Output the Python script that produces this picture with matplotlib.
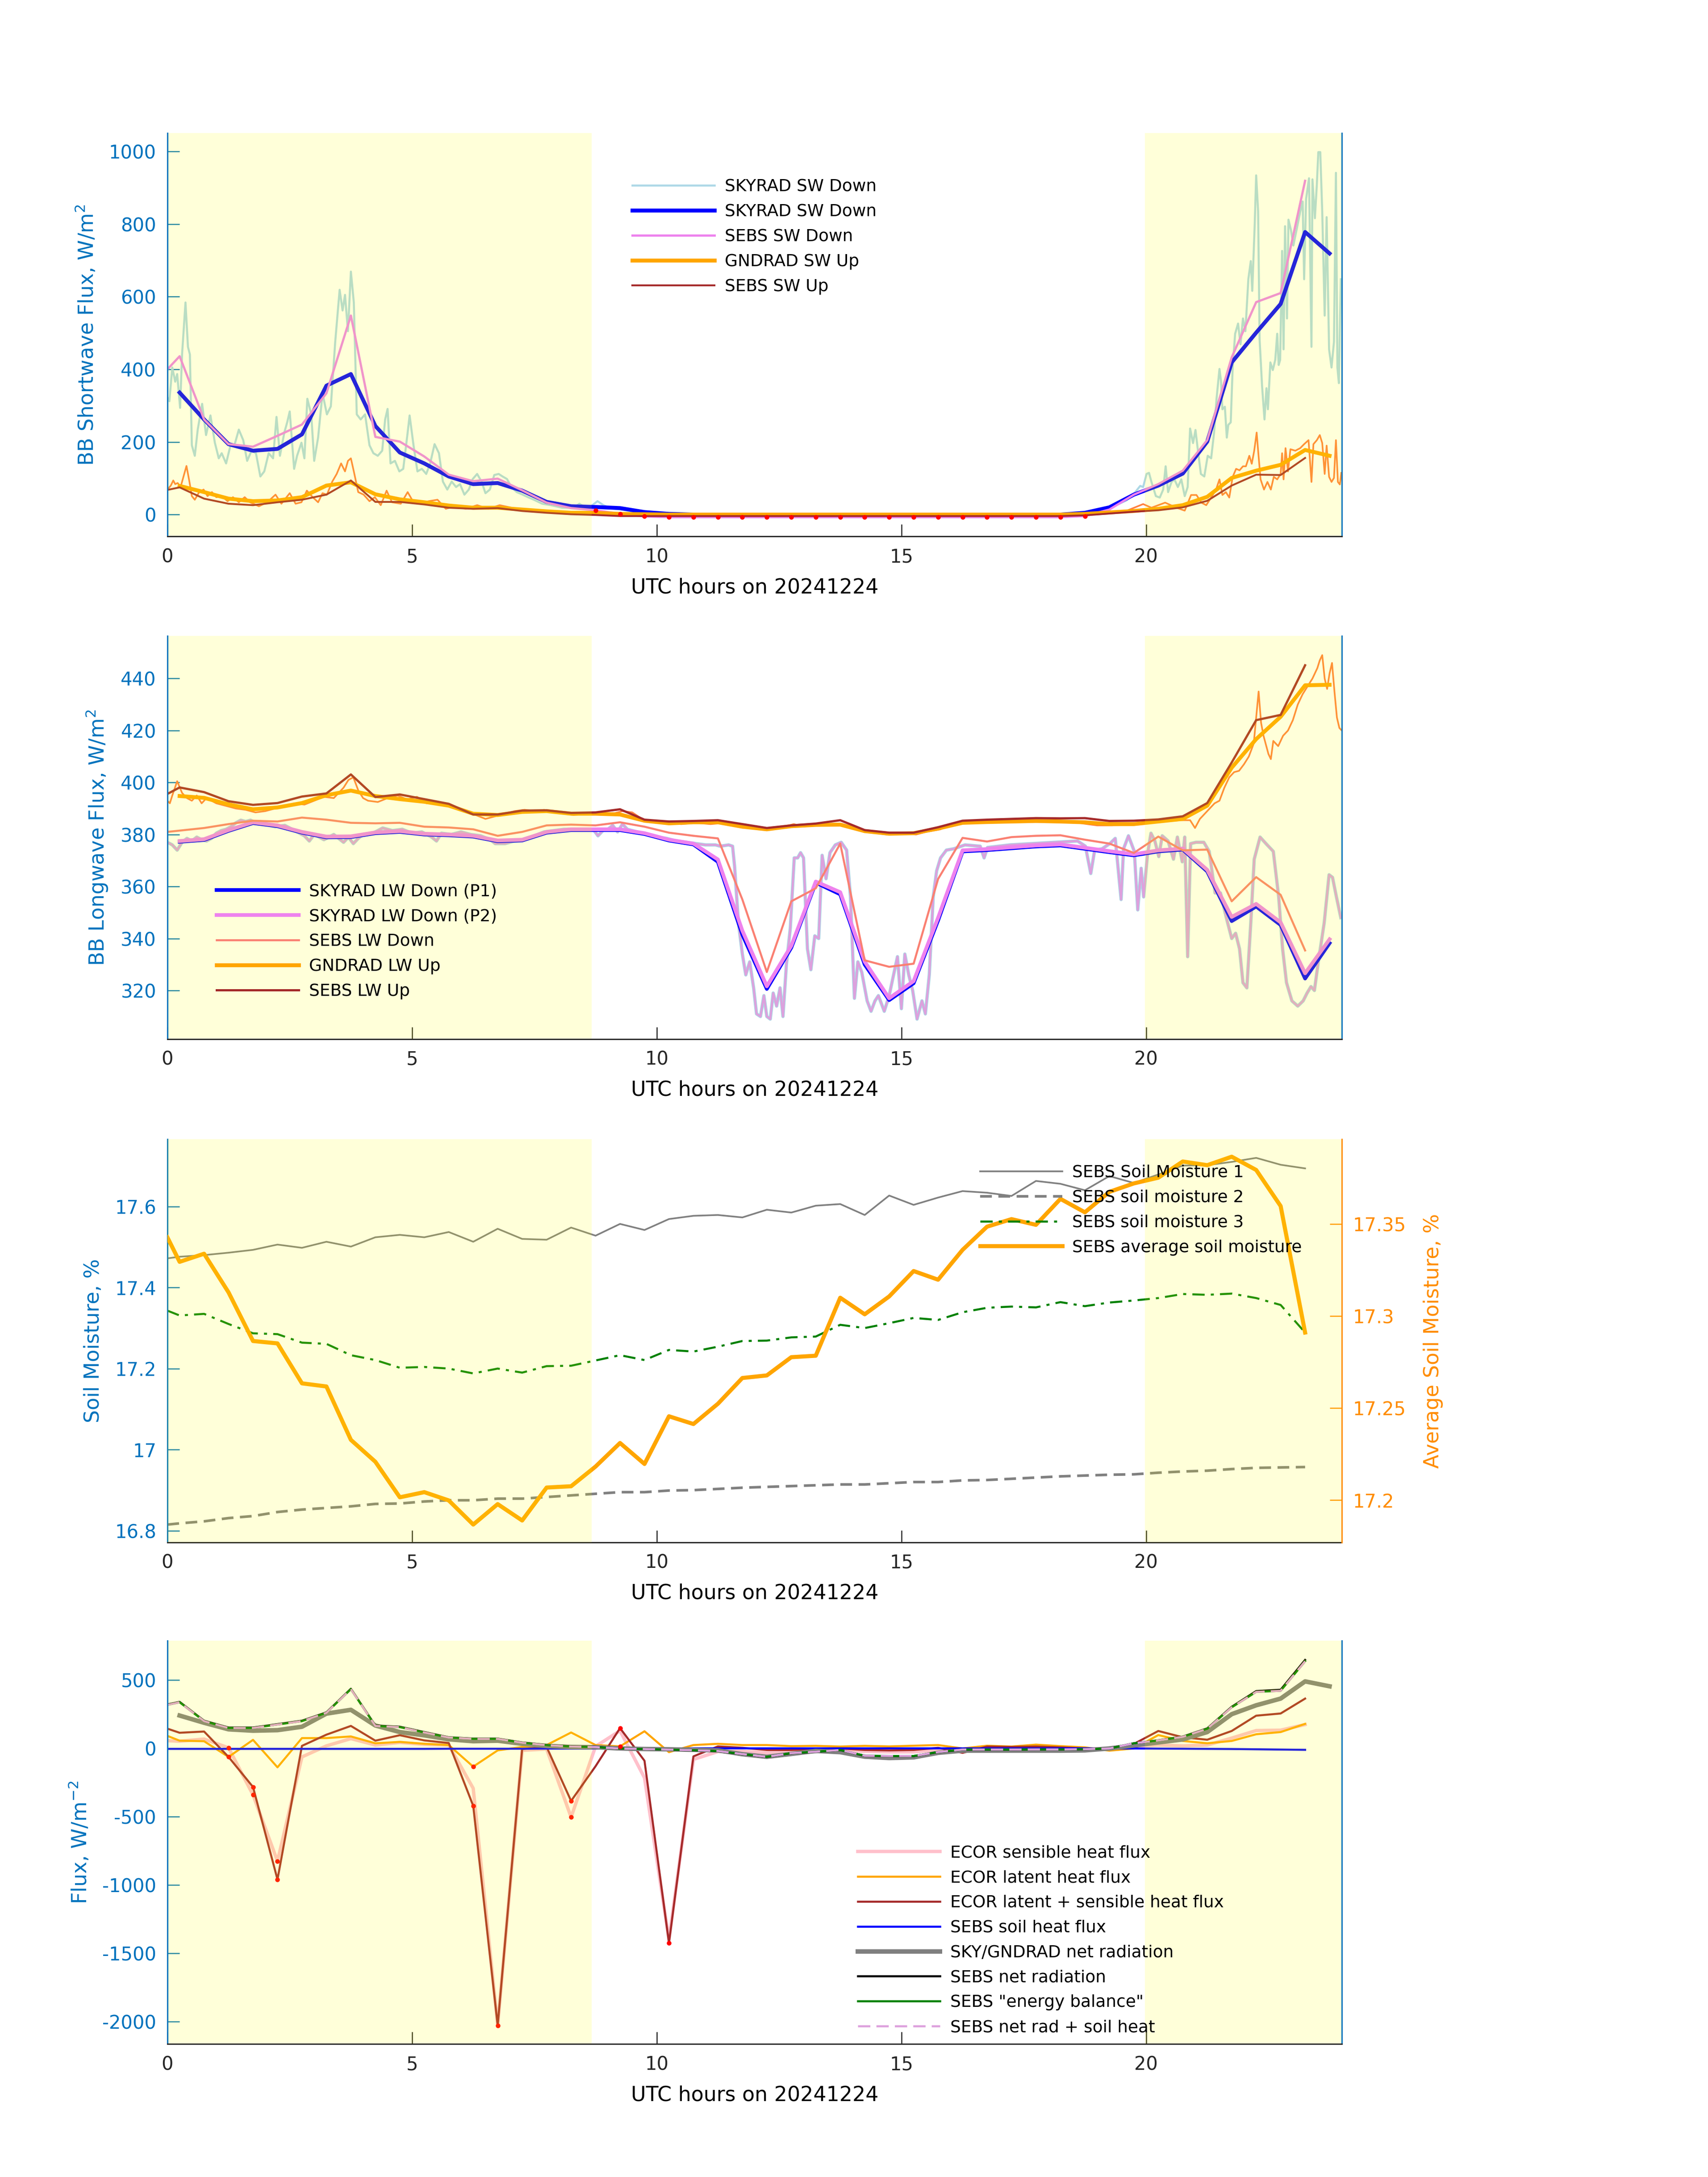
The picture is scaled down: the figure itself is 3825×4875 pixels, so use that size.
import numpy as np
import matplotlib
matplotlib.use("Agg")
import matplotlib.pyplot as plt
from matplotlib.ticker import FuncFormatter

plt.rcParams['font.family'] = 'DejaVu Sans'
plt.rcParams['axes.unicode_minus'] = False

AXBLUE = '#0072BD'
DARK = '#262626'
DAYLIGHT = [(0.0, 8.67), (19.98, 24.0)]

# 30-minute time grids
t_rad = np.arange(0.25, 24.0, 0.5)                               # SKYRAD / GNDRAD
t_sebs = np.concatenate([[0.0], np.arange(0.25, 23.5, 0.5)])     # SEBS / ECOR

# ---------------- panel 1: shortwave ----------------
sky_sw_dn = [336, 262, 194, 176, 181, 221, 355, 387, 244, 171, 141, 105, 84, 87, 66, 35,
             23, 21, 18, 7, 2, 0, 0, 0, 0, 0, 0, 0, 0, 0, 0, 0, 0, 0, 0, 0, 0,
             5, 20, 55, 80, 113, 201, 419, 501, 580, 778, 719]
sebs_sw_dn = [400, 436, 262, 194, 187, 217, 248, 334, 548, 214, 201, 160, 110, 92, 99, 67,
              33, 18, 12, 2, -5, -7, -7, -7, -7, -7, -7, -7, -7, -7, -7, -7, -7, -7, -7,
              -7, -7, -7, -4, 14, 55, 84, 121, 205, 433, 585, 610, 919]
gnd_sw_up = [79, 62, 44, 37, 39, 48, 80, 89, 56, 42, 34, 25, 19, 19, 14, 9, 5, 5, 2, 1,
             0, 0, 0, 0, 0, 0, 0, 0, 0, 0, 0, 0, 0, 0, 0, 0, 0,
             2, 6, 10, 16, 26, 49, 101, 121, 137, 178, 162]
sebs_sw_up = [68, 75, 44, 30, 26, 34, 41, 55, 94, 35, 35, 28, 19, 16, 18, 10, 5, 1, -1,
              -4, -4, -4, -4, -4, -4, -4, -4, -4, -4, -4, -4, -4, -4, -4, -4, -4, -4, -4,
              -2, 3, 8, 12, 20, 38, 80, 110, 109, 156]

sky_sw_dn_1min = [
    (0.0, 323), (0.04, 312), (0.1, 405), (0.16, 366), (0.2, 387), (0.26, 294), (0.3, 441),
    (0.37, 584), (0.42, 462), (0.46, 441), (0.5, 191), (0.56, 162), (0.62, 234), (0.71, 305),
    (0.79, 219), (0.88, 273), (0.97, 198), (1.05, 155), (1.11, 169), (1.2, 141), (1.29, 191),
    (1.37, 191), (1.46, 234), (1.55, 205), (1.63, 148), (1.72, 176), (1.81, 169), (1.9, 105),
    (1.98, 119), (2.07, 169), (2.16, 155), (2.23, 269), (2.3, 162), (2.39, 226), (2.45, 255),
    (2.5, 284), (2.59, 126), (2.65, 162), (2.74, 198), (2.8, 155), (2.86, 319), (2.94, 276),
    (3.0, 148), (3.08, 212), (3.17, 334), (3.26, 276), (3.34, 298), (3.43, 476), (3.52, 619),
    (3.58, 562), (3.63, 605), (3.69, 505), (3.75, 669), (3.81, 584), (3.87, 276), (3.95, 262),
    (4.04, 276), (4.13, 191), (4.21, 169), (4.3, 162), (4.39, 176), (4.45, 262), (4.5, 291),
    (4.56, 141), (4.65, 148), (4.74, 119), (4.82, 126), (4.91, 226), (4.95, 273), (5.03, 191),
    (5.11, 119), (5.2, 126), (5.29, 112), (5.37, 141), (5.46, 194), (5.55, 169), (5.63, 91),
    (5.72, 69), (5.81, 91), (5.9, 76), (5.98, 84), (6.07, 55), (6.16, 69), (6.24, 98),
    (6.33, 112), (6.42, 91), (6.5, 59), (6.59, 69), (6.68, 109), (6.77, 112), (6.85, 105),
    (6.94, 98), (7.03, 76), (7.14, 62), (7.26, 55), (7.37, 48), (7.49, 41), (7.66, 30),
    (7.84, 26), (8.07, 19), (8.3, 19), (8.42, 30), (8.59, 16), (8.79, 37), (8.91, 26),
    (9.04, 19), (9.2, 15), (9.5, 9), (9.8, 4), (10.1, 1), (10.5, 0), (18.5, 0), (18.8, 4),
    (18.93, 8), (19.44, 29), (19.61, 40), (19.78, 62), (19.88, 79), (19.94, 76), (20.01, 112),
    (20.06, 115), (20.11, 90), (20.2, 51), (20.28, 47), (20.35, 69), (20.4, 133), (20.45, 62),
    (20.52, 90), (20.58, 97), (20.65, 76), (20.72, 97), (20.79, 51), (20.85, 76), (20.9, 237),
    (20.96, 197), (21.01, 233), (21.06, 176), (21.12, 112), (21.19, 105), (21.26, 162),
    (21.33, 155), (21.39, 226), (21.44, 319), (21.5, 401), (21.53, 369), (21.56, 290),
    (21.61, 297), (21.65, 212), (21.68, 247), (21.73, 254), (21.77, 405), (21.82, 498),
    (21.88, 526), (21.93, 469), (21.98, 540), (22.03, 505), (22.09, 648), (22.14, 698),
    (22.17, 616), (22.22, 798), (22.25, 934), (22.29, 834), (22.32, 483), (22.37, 355),
    (22.42, 262), (22.46, 348), (22.49, 290), (22.54, 419), (22.59, 398), (22.64, 426),
    (22.68, 498), (22.71, 412), (22.74, 426), (22.78, 726), (22.81, 455), (22.84, 794),
    (22.88, 540), (22.91, 812), (22.96, 784), (23.01, 741), (23.08, 787), (23.15, 834),
    (23.2, 862), (23.23, 648), (23.27, 869), (23.33, 926), (23.38, 462), (23.4, 923),
    (23.45, 816), (23.49, 909), (23.52, 998), (23.56, 998), (23.6, 834), (23.65, 548),
    (23.69, 819), (23.74, 455), (23.79, 405), (23.84, 476), (23.88, 941), (23.91, 405),
    (23.94, 362), (23.98, 648)]

gnd_sw_up_1min = [
    (0.0, 69), (0.07, 80), (0.12, 94), (0.16, 84), (0.21, 87), (0.27, 76), (0.33, 105),
    (0.39, 134), (0.45, 91), (0.5, 51), (0.56, 41), (0.65, 62), (0.74, 69), (0.82, 51),
    (0.91, 62), (1.0, 48), (1.11, 51), (1.23, 37), (1.34, 48), (1.46, 34), (1.58, 48),
    (1.69, 34), (1.87, 23), (2.04, 34), (2.21, 55), (2.33, 30), (2.5, 59), (2.62, 30),
    (2.74, 34), (2.85, 66), (2.97, 48), (3.08, 34), (3.17, 59), (3.26, 55), (3.37, 91),
    (3.46, 112), (3.55, 141), (3.63, 119), (3.69, 148), (3.75, 155), (3.81, 119), (3.9, 62),
    (4.01, 55), (4.13, 37), (4.24, 48), (4.36, 26), (4.48, 66), (4.59, 34), (4.77, 30),
    (4.91, 62), (5.03, 34), (5.17, 30), (5.34, 37), (5.52, 41), (5.69, 16), (5.87, 23),
    (6.1, 16), (6.33, 26), (6.56, 16), (6.79, 26), (7.14, 16), (7.49, 12), (8.07, 6),
    (8.65, 4), (9.2, 2), (9.8, 0), (18.8, 0), (18.93, 3), (19.61, 11), (19.94, 29),
    (20.11, 19), (20.39, 33), (20.62, 19), (20.79, 11), (20.92, 54), (21.03, 54), (21.13, 33),
    (21.23, 26), (21.33, 47), (21.43, 69), (21.5, 97), (21.56, 54), (21.63, 62), (21.7, 47),
    (21.77, 104), (21.84, 126), (21.91, 122), (21.98, 133), (22.04, 133), (22.11, 162),
    (22.16, 140), (22.21, 176), (22.26, 226), (22.29, 176), (22.34, 97), (22.41, 69),
    (22.48, 90), (22.55, 69), (22.61, 104), (22.68, 97), (22.75, 112), (22.78, 169),
    (22.81, 97), (22.85, 183), (22.9, 119), (22.95, 180), (23.05, 176), (23.15, 183),
    (23.23, 194), (23.32, 205), (23.38, 90), (23.42, 194), (23.49, 205), (23.55, 219),
    (23.6, 197), (23.65, 112), (23.69, 190), (23.74, 104), (23.79, 90), (23.84, 101),
    (23.88, 205), (23.92, 90), (23.96, 83), (23.99, 115)]

# ---------------- panel 2: longwave ----------------
sky_lw_dn_p1 = [377.2, 377.9, 381.4, 384.4, 383.2, 380.7, 378.9, 379.0, 380.5, 381.0,
                380.0, 379.7, 379.2, 377.4, 377.7, 380.7, 381.7, 381.7, 381.7, 380.2,
                377.7, 376.2, 369.5, 341.5, 320.6, 336.5, 361.5, 357.0, 330.0, 316.3,
                322.8, 347.0, 373.5, 374.0, 374.7, 375.4, 375.8, 374.5, 373.2, 372.0,
                373.5, 374.2, 365.8, 346.7, 352.3, 345.2, 324.6, 338.2]
sky_lw_dn_p2 = [377.5, 378.2, 381.7, 384.7, 383.5, 381.0, 379.2, 379.3, 380.8, 381.3,
                380.3, 380.0, 379.5, 377.7, 378.0, 381.0, 382.0, 382.0, 382.0, 380.5,
                378.0, 376.5, 370.4, 343.0, 321.6, 337.2, 361.9, 357.8, 331.1, 317.0,
                323.6, 348.0, 373.9, 374.4, 375.1, 375.8, 376.2, 374.9, 373.6, 372.4,
                373.9, 374.6, 366.4, 348.3, 353.3, 346.2, 326.6, 339.7]
sebs_lw_dn = [381.0, 381.5, 382.5, 384.0, 385.3, 385.0, 386.5, 385.7, 384.5, 384.3,
              384.5, 383.0, 382.7, 382.0, 379.5, 381.0, 383.5, 383.8, 383.5, 384.7,
              383.0, 380.7, 379.5, 378.5, 355.0, 327.1, 354.3, 359.3, 376.5, 331.6,
              329.1, 330.3, 362.9, 378.7, 377.3, 379.0, 379.5, 379.7, 378.0, 376.5,
              372.9, 379.2, 373.9, 374.2, 354.3, 363.6, 356.8, 335.4]
gnd_lw_up = [394.8, 394.1, 391.6, 389.7, 390.4, 392.1, 395.1, 396.9, 394.8, 393.6,
             392.6, 391.1, 388.0, 387.5, 388.7, 389.0, 388.0, 388.0, 387.7, 385.3,
             384.3, 384.7, 384.7, 383.0, 382.0, 383.2, 383.7, 383.8, 381.3, 380.3,
             380.5, 382.3, 384.5, 384.8, 385.0, 385.2, 385.0, 384.7, 384.0, 384.0,
             385.0, 386.0, 391.1, 405.7, 416.7, 425.3, 437.4, 437.6]
sebs_lw_up = [395.6, 398.1, 396.3, 392.8, 391.4, 392.1, 394.6, 395.8, 403.1, 394.4,
              395.4, 393.6, 391.8, 387.7, 387.7, 389.2, 389.3, 388.3, 388.5, 389.7,
              385.7, 385.0, 385.2, 385.5, 384.0, 382.5, 383.5, 384.2, 385.5, 381.7,
              380.7, 380.7, 382.8, 385.3, 385.7, 386.0, 386.3, 386.2, 386.3, 385.2,
              385.3, 385.8, 387.0, 392.1, 407.7, 424.0, 426.0, 445.1]

sky_lw_dn_1min = [
    (0.0, 377), (0.1, 376), (0.2, 374), (0.3, 377), (0.4, 378.5), (0.5, 377.5), (0.6, 379),
    (0.7, 378), (0.8, 377.5), (0.9, 378.5), (1.0, 380.5), (1.1, 381.5), (1.2, 382), (1.3, 383),
    (1.4, 384.5), (1.5, 385.5), (1.6, 385), (1.7, 385.5), (1.8, 384.5), (1.9, 385), (2.0, 384),
    (2.2, 383), (2.4, 383.5), (2.6, 381.5), (2.8, 379.5), (2.9, 377.5), (3.0, 380), (3.2, 378),
    (3.4, 380), (3.5, 378.5), (3.6, 377), (3.7, 379), (3.8, 376.5), (3.9, 378.5), (4.0, 380),
    (4.2, 380.5), (4.4, 382.5), (4.6, 381.5), (4.8, 382), (5.0, 380.5), (5.2, 381), (5.4, 379),
    (5.5, 377.5), (5.6, 380.5), (5.8, 380), (6.0, 381), (6.2, 380), (6.4, 379.5), (6.6, 378),
    (6.7, 376.5), (6.9, 376.5), (7.1, 377.5), (7.3, 378), (7.5, 379.5), (7.7, 381), (7.9, 381.5),
    (8.1, 382), (8.4, 382), (8.7, 382), (8.8, 379.5), (8.9, 381.5), (9.0, 382), (9.1, 383.5),
    (9.2, 381), (9.3, 384), (9.4, 382), (9.6, 381), (9.8, 380), (10.0, 379), (10.2, 378.5),
    (10.4, 377.5), (10.6, 377), (10.8, 376.5), (11.0, 376), (11.2, 376), (11.3, 375.5),
    (11.47, 376), (11.55, 375.5), (11.59, 368), (11.67, 346), (11.75, 334), (11.82, 326),
    (11.9, 331), (11.98, 321), (12.04, 311), (12.12, 310), (12.19, 318), (12.25, 310),
    (12.32, 309), (12.38, 319), (12.45, 314), (12.52, 321), (12.58, 310), (12.65, 330),
    (12.73, 344), (12.81, 371), (12.88, 371), (12.94, 373), (13.0, 371), (13.08, 336),
    (13.15, 328), (13.23, 341), (13.31, 340), (13.38, 372), (13.46, 363), (13.54, 373),
    (13.65, 376), (13.77, 377), (13.88, 374), (13.96, 356), (14.04, 317), (14.11, 331),
    (14.19, 327), (14.3, 316), (14.38, 312), (14.46, 316), (14.53, 318), (14.65, 312),
    (14.75, 318), (14.84, 326), (14.92, 333), (15.0, 313), (15.07, 334), (15.15, 326),
    (15.23, 320), (15.32, 309), (15.42, 316), (15.49, 311), (15.57, 326), (15.65, 356),
    (15.72, 366), (15.8, 371), (15.92, 374), (16.07, 374.5), (16.3, 376), (16.61, 375.5),
    (16.69, 371), (16.76, 375), (17.22, 376), (17.68, 376.5), (18.14, 377), (18.6, 377.5),
    (18.76, 375.5), (18.87, 365), (18.95, 374), (19.1, 374.5), (19.26, 376.5), (19.37, 378.5),
    (19.49, 355), (19.54, 374.5), (19.64, 379.5), (19.76, 373.5), (19.83, 351), (19.9, 367),
    (19.95, 356), (20.03, 372.5), (20.1, 380.5), (20.18, 377.5), (20.26, 371.5), (20.33, 379.5),
    (20.45, 377.5), (20.56, 370.5), (20.64, 379), (20.74, 369.5), (20.79, 379), (20.85, 333),
    (20.91, 376.5), (21.02, 377), (21.18, 377), (21.29, 373.5), (21.41, 357.5), (21.52, 357.5),
    (21.64, 348), (21.75, 340), (21.83, 342), (21.91, 336), (21.98, 323), (22.06, 321),
    (22.14, 346), (22.21, 370.5), (22.33, 379), (22.45, 376.5), (22.6, 373.5), (22.71, 356),
    (22.79, 336), (22.87, 323), (22.98, 316), (23.1, 314), (23.21, 316), (23.29, 319),
    (23.37, 321.5), (23.44, 320), (23.52, 331), (23.64, 346), (23.74, 364.5), (23.81, 363.5),
    (23.89, 356), (23.98, 348)]

gnd_lw_up_1min = [
    (0.0, 393), (0.05, 392), (0.1, 395), (0.2, 400.5), (0.3, 396), (0.4, 394), (0.5, 393),
    (0.6, 395), (0.7, 392), (0.8, 394), (0.9, 393), (1.0, 392), (1.2, 391), (1.4, 390),
    (1.6, 389.5), (1.8, 388.5), (2.0, 389), (2.2, 390), (2.4, 391), (2.6, 392), (2.8, 391.5),
    (3.0, 393), (3.2, 394.5), (3.4, 394), (3.5, 396), (3.6, 398), (3.7, 401), (3.8, 402),
    (3.9, 397), (4.0, 394), (4.1, 393), (4.3, 392.5), (4.5, 394), (4.7, 395), (4.9, 393.5),
    (5.1, 394.5), (5.3, 392), (5.5, 392.5), (5.7, 391), (5.9, 390), (6.1, 389), (6.3, 387.5),
    (6.5, 386), (6.7, 387), (6.9, 388), (7.1, 389), (7.3, 389.5), (7.5, 389), (7.7, 389.5),
    (7.9, 388.5), (8.1, 388), (8.3, 387.5), (8.6, 388), (8.9, 387.5), (9.1, 388), (9.3, 389),
    (9.5, 388.5), (9.7, 386), (9.9, 385), (10.2, 384.5), (10.5, 384), (10.8, 384.5),
    (11.1, 384), (11.4, 384.5), (11.7, 383.5), (12.0, 383), (12.3, 382), (12.5, 382.5),
    (12.8, 384), (13.0, 383), (13.3, 384), (13.5, 383.5), (13.8, 384), (14.0, 383),
    (14.2, 381.5), (14.5, 380.5), (14.7, 380), (15.0, 380.5), (15.3, 380), (15.5, 381),
    (15.8, 382), (16.0, 384), (16.3, 384.5), (16.6, 385), (17.0, 385), (17.5, 385), (18.0, 385),
    (18.5, 384.8), (18.8, 384), (19.0, 383.5), (19.3, 383.5), (19.6, 383.8), (19.9, 384.5),
    (20.1, 385), (20.4, 385), (20.7, 385.5), (20.9, 385.5), (21.0, 382.5), (21.1, 386),
    (21.2, 388), (21.4, 392), (21.5, 393), (21.6, 398), (21.7, 402), (21.8, 404), (21.9, 404.5),
    (22.0, 407), (22.1, 410), (22.2, 415), (22.25, 425), (22.3, 435), (22.35, 423),
    (22.4, 418), (22.5, 411), (22.55, 409), (22.6, 416), (22.7, 414), (22.8, 418), (22.9, 420),
    (23.0, 424), (23.1, 430), (23.2, 434), (23.3, 437), (23.4, 440), (23.5, 444), (23.55, 447),
    (23.6, 449), (23.65, 440), (23.7, 436), (23.75, 442), (23.8, 446), (23.85, 435),
    (23.9, 425), (23.95, 421), (24.0, 420)]

# ---------------- panel 3: soil moisture ----------------
soil_m1 = [17.472, 17.476, 17.480, 17.486, 17.493, 17.506, 17.498, 17.513, 17.501, 17.524,
           17.530, 17.524, 17.537, 17.513, 17.545, 17.520, 17.518, 17.548, 17.528, 17.557,
           17.542, 17.569, 17.577, 17.579, 17.573, 17.592, 17.585, 17.602, 17.606, 17.579,
           17.627, 17.604, 17.622, 17.638, 17.634, 17.626, 17.663, 17.656, 17.640, 17.675,
           17.658, 17.679, 17.701, 17.702, 17.710, 17.720, 17.703, 17.694]
soil_m2 = [16.815, 16.818, 16.823, 16.831, 16.836, 16.846, 16.852, 16.856, 16.860, 16.866,
           16.867, 16.872, 16.875, 16.875, 16.879, 16.879, 16.883, 16.887, 16.891, 16.895,
           16.895, 16.899, 16.900, 16.903, 16.906, 16.908, 16.910, 16.912, 16.914, 16.914,
           16.917, 16.920, 16.920, 16.924, 16.925, 16.928, 16.931, 16.934, 16.936, 16.938,
           16.939, 16.943, 16.946, 16.948, 16.952, 16.955, 16.956, 16.957]
soil_m3 = [17.343, 17.331, 17.335, 17.310, 17.287, 17.285, 17.264, 17.261, 17.233, 17.221,
           17.202, 17.204, 17.200, 17.188, 17.200, 17.190, 17.206, 17.207, 17.220, 17.233,
           17.221, 17.246, 17.242, 17.254, 17.268, 17.269, 17.277, 17.279, 17.308, 17.300,
           17.312, 17.325, 17.320, 17.339, 17.350, 17.353, 17.351, 17.364, 17.354, 17.363,
           17.368, 17.374, 17.384, 17.382, 17.385, 17.374, 17.357, 17.289]
soil_avg = [17.3427, 17.3294, 17.3338, 17.3128, 17.2864, 17.2851, 17.2634, 17.2617, 17.2327,
            17.2208, 17.2015, 17.2043, 17.1998, 17.1867, 17.1978, 17.1889, 17.2068, 17.2075,
            17.2182, 17.2310, 17.2196, 17.2455, 17.2413, 17.2523, 17.2663, 17.2677, 17.2776,
            17.2784, 17.3099, 17.3009, 17.3106, 17.3244, 17.3197, 17.3359, 17.3485, 17.3526,
            17.3495, 17.3636, 17.3563, 17.3674, 17.3720, 17.3751, 17.3839, 17.3819, 17.3865,
            17.3793, 17.3597, 17.2910]

# ---------------- panel 4: surface energy fluxes ----------------
ecor_sensible = [57, 53, 69, 5, -340, -825, -62, 19, 72, 25, 44,
                 30, 25, -292, -2027, -14, -4, -503, 15, 130, -215,
                 -1400, -80, -23, -20, -32, -18, -14, -11, -21, -25,
                 -25, -11, -5, -5, -5, -4, -3, -3, 0, 17,
                 25, 19, 25, 76, 131, 134, 175]
ecor_latent = [92, 57, 53, -62, 63, -138, 76, 76, 88, 38, 48,
               34, 25, -133, -14, 11, 25, 117, 25, 15, 126,
               -27, 25, 34, 25, 25, 17, 19, 14, 19, 15,
               20, 25, 0, 20, 14, 28, 17, 8, -16, 0,
               98, 55, 38, 55, 104, 120, 180]
ecor_sum = [145, 115, 124, -62, -282, -959, 19, 101, 165, 57, 97,
            59, 40, -420, -2027, -4, 11, -384, -130, 149, -90,
            -1423, -58, 15, 5, -11, -11, -5, 0, -11, -14,
            -11, 5, -32, 14, 11, 14, 8, 0, -5, 33,
            128, 82, 64, 128, 240, 256, 365]
sebs_soil_heat = [-3, -3, -3, -3, -3, -3, -3, -3, -3, -3, -3,
                  -3, -2, -2, -2, -2, -1, -1, -1, 0, 0,
                  0, 1, 1, 1, 1, 1, 1, 1, 1, 1,
                  1, 1, 1, 1, 1, 1, 1, 1, 0, 0,
                  -1, -2, -3, -4, -6, -8, -10]
sebs_netrad = [322, 341, 203, 153, 153, 178, 203, 264, 437, 168, 159,
               120, 82, 72, 72, 44, 25, 15, 11, 0, -4,
               -8, -14, -20, -42, -62, -35, -25, -12, -54, -56,
               -56, -27, -9, -9, -9, -8, -8, -6, 0, 38,
               60, 87, 147, 305, 420, 430, 648]
sky_gnd_netrad = [241, 188, 140, 130, 134, 159, 255, 283, 168, 120,
                  96, 67, 53, 57, 34, 19, 11, 9, 0, -4,
                  -6, -10, -14, -42, -61, -40, -18, -27, -60, -70,
                  -65, -32, -16, -16, -16, -16, -16, -14, 0, 22,
                  44, 66, 120, 251, 316, 365, 491, 455]
ecor_flagged = [(1.25, 5), (1.25, -62), (1.75, -282), (1.75, -340), (2.25, -825),
                (2.25, -959), (6.25, -133), (6.25, -420), (6.75, -2027), (8.25, -384),
                (8.25, -503), (9.25, 149), (9.25, 15), (10.25, -1423)]


def fmt(v, pos):
    return '%g' % round(v, 6)


def style(ax, ylim, yticks, ylabel, right_color=AXBLUE):
    ax.set_xlim(0, 24)
    ax.set_ylim(*ylim)
    ax.set_xticks([0, 5, 10, 15, 20])
    ax.set_yticks(yticks)
    ax.yaxis.set_major_formatter(FuncFormatter(fmt))
    ax.tick_params(direction='in', length=6.5, width=0.6, labelsize=10, pad=6)
    ax.tick_params(axis='y', colors=AXBLUE)
    ax.tick_params(axis='x', colors=DARK)
    ax.spines['top'].set_visible(False)
    ax.spines['left'].set_color(AXBLUE)
    ax.spines['right'].set_color(right_color)
    ax.spines['bottom'].set_color(DARK)
    for s in ax.spines.values():
        s.set_linewidth(0.7)
    ax.set_ylabel(ylabel, color=AXBLUE, fontsize=11, labelpad=6)
    ax.set_xlabel('UTC hours on 20241224', fontsize=11, labelpad=6, color='black')


def shade(ax):
    for a, b in DAYLIGHT:
        ax.axvspan(a, b, color='yellow', alpha=0.15, lw=0, zorder=2.2)


def legend(ax, handles, x0, y0):
    ax.legend(handles=handles, loc='upper left', bbox_to_anchor=(x0, y0), frameon=False,
              fontsize=9, handlelength=4.9, handletextpad=0.6, labelspacing=0.53,
              borderpad=0, borderaxespad=0)


fig = plt.figure(figsize=(12.75, 16.25), dpi=300)
left, width, height = 0.098, 0.6876, 0.1852
bottoms = [0.7536, 0.5227, 0.2915, 0.0611]
axes = [fig.add_axes([left, b, width, height]) for b in bottoms]

# panel 1
ax = axes[0]
t1, v1 = np.array(sky_sw_dn_1min).T
t2, v2 = np.array(gnd_sw_up_1min).T
h1, = ax.plot(t1, v1, color='lightblue', lw=1.1, label='SKYRAD SW Down')
ax.plot(t2, v2, color='#ff8040', lw=0.9)
h2, = ax.plot(t_rad, sky_sw_dn, color='blue', lw=2.1, label='SKYRAD SW Down')
h3, = ax.plot(t_sebs, sebs_sw_dn, color='violet', lw=1.2, label='SEBS SW Down')
h4, = ax.plot(t_rad, gnd_sw_up, color='orange', lw=2.1, label='GNDRAD SW Up')
h5, = ax.plot(t_sebs, sebs_sw_up, color='brown', lw=1.0, label='SEBS SW Up')
night = (t_sebs > 8.7) & (t_sebs < 18.8)
ax.plot(t_sebs[night], np.array(sebs_sw_dn)[night], '.', color='red', ms=3)
style(ax, (-60, 1050), [0, 200, 400, 600, 800, 1000], 'BB Shortwave Flux, W/m$^2$')
shade(ax)
legend(ax, [h1, h2, h3, h4, h5], 0.396, 0.887)

# panel 2
ax = axes[1]
t1, v1 = np.array(sky_lw_dn_1min).T
t2, v2 = np.array(gnd_lw_up_1min).T
ax.plot(t1, v1, color='lightblue', lw=1.8)
ax.plot(t1, v1, color='plum', lw=1.1)
ax.plot(t2, v2, color='#ff8040', lw=0.9)
h1, = ax.plot(t_rad, sky_lw_dn_p1, color='blue', lw=2.0, label='SKYRAD LW Down (P1)')
h2, = ax.plot(t_rad, sky_lw_dn_p2, color='violet', lw=2.0, label='SKYRAD LW Down (P2)')
h3, = ax.plot(t_sebs, sebs_lw_dn, color='salmon', lw=1.1, label='SEBS LW Down')
h4, = ax.plot(t_rad, gnd_lw_up, color='orange', lw=2.1, label='GNDRAD LW Up')
h5, = ax.plot(t_sebs, sebs_lw_up, color='brown', lw=1.2, label='SEBS LW Up')
style(ax, (301.3, 456.4), [320, 340, 360, 380, 400, 420, 440], 'BB Longwave Flux, W/m$^2$')
shade(ax)
legend(ax, [h1, h2, h3, h4, h5], 0.042, 0.386)

# panel 3
ax = axes[2]
h1, = ax.plot(t_sebs, soil_m1, color='gray', lw=0.9, label='SEBS Soil Moisture 1')
h2, = ax.plot(t_sebs, soil_m2, color='gray', lw=1.4, ls=(0, (4.5, 2.5)),
              label='SEBS soil moisture 2')
h3, = ax.plot(t_sebs, soil_m3, color='green', lw=1.1, ls=(0, (6, 3, 1.5, 3)),
              label='SEBS soil moisture 3')
style(ax, (16.771, 17.766), [16.8, 17.0, 17.2, 17.4, 17.6], 'Soil Moisture, %')
ax.spines['right'].set_visible(False)
ax2 = ax.twinx()
h4, = ax2.plot(t_sebs, soil_avg, color='orange', lw=2.2, label='SEBS average soil moisture')
ax2.set_xlim(0, 24)
ax2.set_ylim(17.177, 17.396)
ax2.set_yticks([17.2, 17.25, 17.3, 17.35])
ax2.yaxis.set_major_formatter(FuncFormatter(fmt))
ax2.tick_params(direction='in', length=6.5, width=0.6, labelsize=10, pad=6,
                colors='darkorange')
for name in ['top', 'left', 'bottom']:
    ax2.spines[name].set_visible(False)
ax2.spines['right'].set_color('darkorange')
ax2.spines['right'].set_linewidth(0.7)
ax2.set_ylabel('Average Soil Moisture, %', color='darkorange', fontsize=11, labelpad=9)
shade(ax2)
legend(ax2, [h1, h2, h3, h4], 0.692, 0.937)

# panel 4
ax = axes[3]
netrad_soil = np.array(sebs_netrad) + np.array(sebs_soil_heat)
h1, = ax.plot(t_sebs, ecor_sensible, color='pink', lw=1.8, label='ECOR sensible heat flux')
h2, = ax.plot(t_sebs, ecor_latent, color='orange', lw=1.1, label='ECOR latent heat flux')
h3, = ax.plot(t_sebs, ecor_sum, color='brown', lw=1.1,
              label='ECOR latent + sensible heat flux')
h4, = ax.plot(t_sebs, sebs_soil_heat, color='blue', lw=1.1, label='SEBS soil heat flux')
h5, = ax.plot(t_rad, sky_gnd_netrad, color='gray', lw=2.4, label='SKY/GNDRAD net radiation')
h6, = ax.plot(t_sebs, sebs_netrad, color='black', lw=1.1, label='SEBS net radiation')
h7, = ax.plot(t_sebs, netrad_soil, color='green', lw=1.1, label='SEBS "energy balance"')
h8, = ax.plot(t_sebs, netrad_soil, color='plum', lw=1.1, ls=(0, (6, 3)),
              label='SEBS net rad + soil heat')
tf, vf = np.array(ecor_flagged).T
ax.plot(tf, vf, '.', color='red', ms=3)
style(ax, (-2163, 788), [-2000, -1500, -1000, -500, 0, 500], 'Flux, W/m$^{-2}$')
shade(ax)
legend(ax, [h1, h2, h3, h4, h5, h6, h7, h8], 0.588, 0.494)

fig.savefig('out.png', dpi=300)
